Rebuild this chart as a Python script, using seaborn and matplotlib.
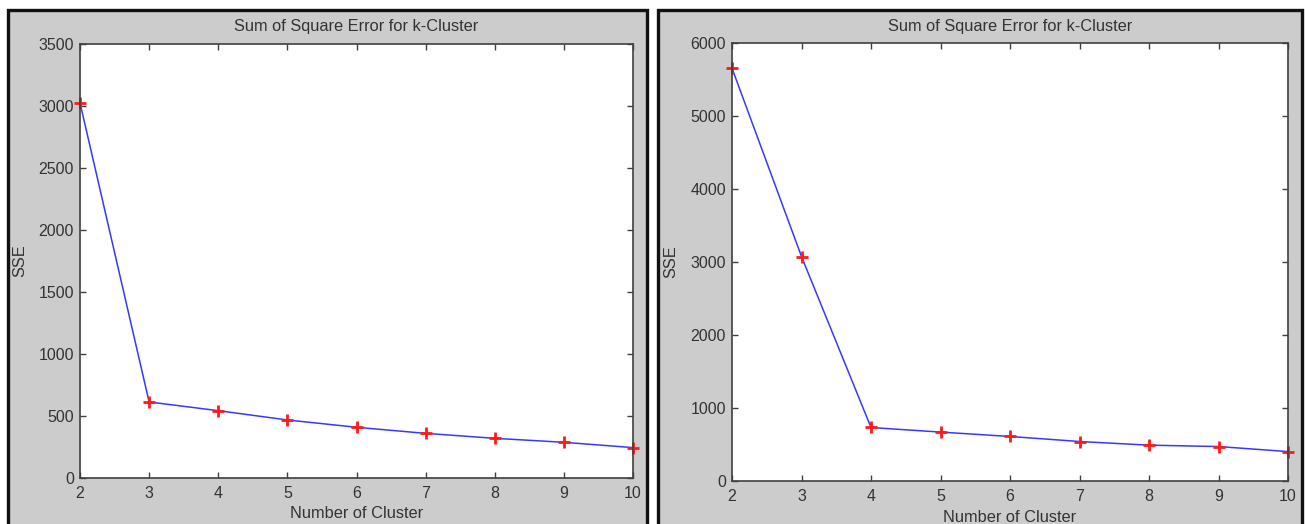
import matplotlib
matplotlib.use("Agg")
import matplotlib.pyplot as plt
import seaborn as sns
import pandas as pd
from matplotlib.patches import Rectangle

sns.set_style("ticks")
plt.rcParams['font.family'] = ['Liberation Sans', 'DejaVu Sans']

clusters = [2, 3, 4, 5, 6, 7, 8, 9, 10]
sse_left = [3025, 613, 543, 468, 409, 360, 320, 288, 245]
sse_right = [5655, 3075, 733, 670, 610, 541, 491, 472, 403]
title_text = "Sum of Square Error for k-Cluster"
xlabel_text = "Number of Cluster"
ylabel_text = "SSE"
left_yticks = list(range(0, 3501, 500))
right_yticks = list(range(0, 6001, 1000))

W, H = 1305, 524
fig = plt.figure(figsize=(W / 100, H / 100), dpi=100)
fig.patch.set_facecolor("white")

# panel backgrounds (figure-level frames)
for (x0, x1) in [(8, 647), (658, 1302)]:
    fig.patches.append(Rectangle((x0 / W, -0.05), (x1 - x0) / W, (H - 10) / H + 0.05,
                                 transform=fig.transFigure, facecolor="#cccccc",
                                 edgecolor="#111111", linewidth=2.4, zorder=-5))

tc = "#333333"

def make_panel(rect, vals, yticks, ylim, ylab_x, xlab_y):
    ax = fig.add_axes(rect)
    ax.set_zorder(2)
    ax.set_facecolor("white")
    df = pd.DataFrame({"k": clusters, "sse": vals})
    sns.lineplot(data=df, x="k", y="sse", ax=ax, color="#3838ff", linewidth=1.1,
                 marker="+", markersize=8, markeredgewidth=2.0,
                 markeredgecolor="#ff1a1a", markerfacecolor="#ff1a1a", clip_on=False)
    ax.set_xlim(2, 10)
    ax.set_ylim(*ylim)
    ax.set_xticks(clusters)
    ax.set_yticks(yticks)
    ax.tick_params(direction="in", length=4, width=1, colors="#404040",
                   labelcolor=tc, labelsize=11.5, top=True, right=True)
    ax.tick_params(axis="x", pad=5.5)
    ax.tick_params(axis="y", pad=4.5)
    for s in ax.spines.values():
        s.set_visible(True)
        s.set_color("#404040")
        s.set_linewidth(1.2)
    ax.set_xlabel("")
    ax.set_ylabel("")
    ax.set_title(title_text, fontsize=11.8, color=tc, pad=9)
    fig.text(rect[0] + rect[2] / 2, xlab_y, xlabel_text, ha="center", va="center",
             fontsize=11.8, color=tc, zorder=3)
    fig.text(ylab_x, rect[1] + rect[3] / 2, ylabel_text, ha="center", va="center",
             rotation=90, fontsize=11.8, color=tc, zorder=3)
    return ax

make_panel([80 / W, 1 - 478 / H, 553 / W, 434 / H], sse_left, left_yticks, (0, 3500),
           20 / W, 1 - 514 / H)
make_panel([732 / W, 1 - 481 / H, 556 / W, 438 / H], sse_right, right_yticks, (0, 6000),
           671 / W, 1 - 517 / H)

fig.savefig("out.png", dpi=100, facecolor=fig.get_facecolor())
